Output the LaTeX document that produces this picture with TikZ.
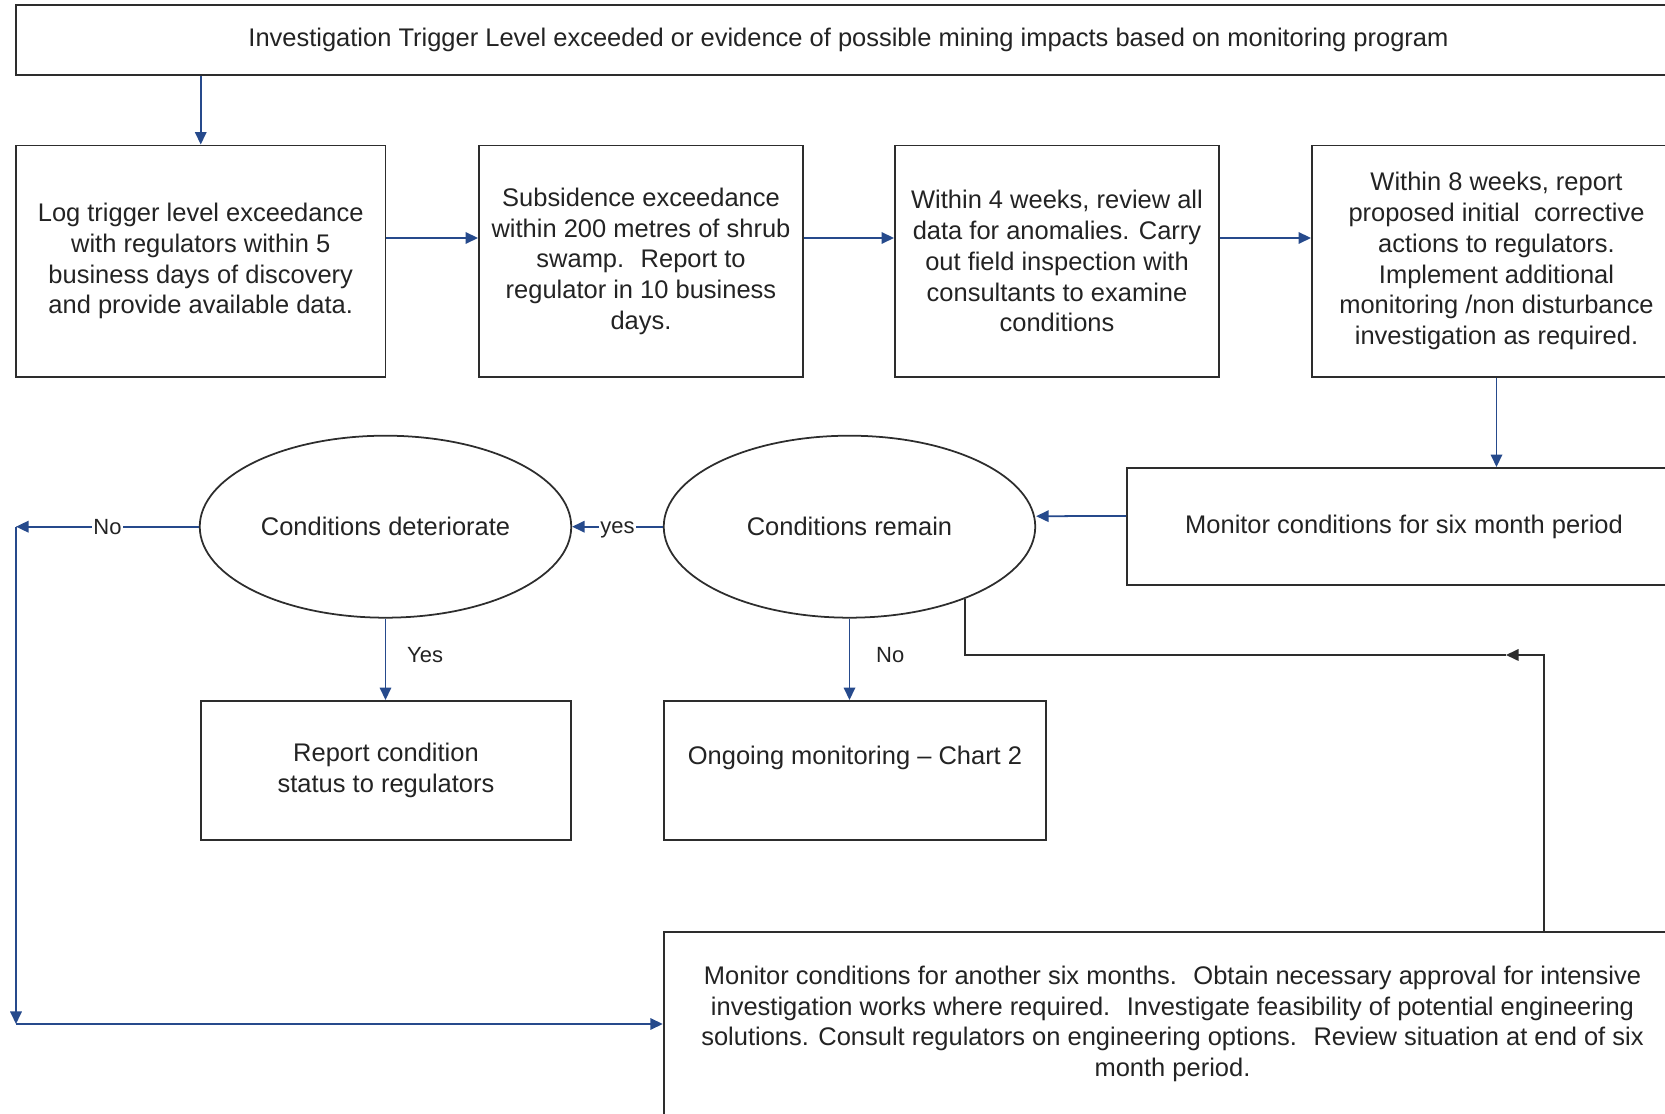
\documentclass[tikz,border=0pt]{standalone}
\usepackage{fontspec}
\setmainfont{Liberation Sans}
\usetikzlibrary{shapes.geometric,arrows.meta}

\begin{document}
\begin{tikzpicture}[
    mybox/.style={draw=myframe, line width=1.1pt, text=mytext, align=center, inner sep=2pt,
        font=\fontsize{14.5}{17.5}\selectfont},
    myellipse/.style={ellipse, draw=myframe, line width=1pt, text=mytext, inner sep=0pt,
        minimum width=7.43cm, minimum height=3.64cm, font=\fontsize{14.5}{17.5}\selectfont},
    myarrow/.style={draw=myblue, line width=1pt, -{Triangle[length=0.25cm,width=0.23cm]}},
    mylabel/.style={text=mytext, font=\fontsize{12.5}{15}\selectfont, inner sep=1pt}
]

\definecolor{myblue}{RGB}{38,74,140}
\definecolor{myframe}{RGB}{45,45,45}
\definecolor{mytext}{RGB}{35,35,35}

    %Rahmen
    \useasboundingbox (0,0) rectangle (33.3,22.28);

    %Kasten oben
    \node [mybox, minimum width=33.3cm, minimum height=1.4cm] (trigger) at (16.97,21.48)
        {Investigation Trigger Level exceeded or evidence of possible mining impacts based on monitoring program};

    %Erste Reihe
    \node [mybox, minimum width=7.39cm, minimum height=4.63cm] (log) at (4.015,17.055)
        {Log trigger level exceedance\\with regulators within 5\\business days of discovery\\and provide available data.};
    \node [mybox, minimum width=6.48cm, minimum height=4.63cm] (subsid) at (12.82,17.055)
        {Subsidence exceedance\\within 200 metres of shrub\\swamp.~ Report to\\regulator in 10 business\\days.};
    \node [mybox, minimum width=6.48cm, minimum height=4.63cm] (review) at (21.14,17.055)
        {Within 4 weeks, review all\\data for anomalies. Carry\\out field inspection with\\consultants to examine\\conditions};
    \node [mybox, minimum width=7.38cm, minimum height=4.63cm] (propose) at (29.93,17.055)
        {Within 8 weeks, report\\proposed initial~ corrective\\actions to regulators.\\Implement additional\\monitoring /non disturbance\\investigation as required.};

    %Zweite Reihe
    \node [mybox, minimum width=11.08cm, minimum height=2.34cm] (monitor) at (28.08,11.75)
        {Monitor conditions for six month period};
    \node [myellipse] (remain) at (16.99,11.746) {Conditions remain};
    \node [myellipse] (deter) at (7.71,11.746) {Conditions deteriorate};

    %Dritte Reihe
    \node [mybox, minimum width=7.41cm, minimum height=2.78cm] (status) at (7.72,6.87)
        {Report condition\\status to regulators};
    \node [mybox, minimum width=7.65cm, minimum height=2.78cm] (ongoing) at (17.10,6.87)
        {Ongoing monitoring -- Chart 2\\\mbox{}};

    %Kasten unten
    \node [mybox, minimum width=20.35cm, minimum height=3.68cm] (another) at (23.45,1.80)
        {Monitor conditions for another six months.~ Obtain necessary approval for intensive\\investigation works where required.~ Investigate feasibility of potential engineering\\solutions. Consult regulators on engineering options.~ Review situation at end of six\\month period.};

    %Hilfspunkte
    \coordinate (noend) at (0.32,11.746);
    \coordinate (corner) at (noend |- another.west);
    \coordinate (fbx) at (30.88,0);
    \coordinate (fbarrow) at (30.12,9.18);

    %Pfeile
    \draw [myarrow] (log.north |- trigger.south) -- (log.north);
    \draw [myarrow] ([yshift=0.465cm]log.east) -- ([yshift=0.465cm]subsid.west);
    \draw [myarrow] ([yshift=0.465cm]subsid.east) -- ([yshift=0.465cm]review.west);
    \draw [myarrow] ([yshift=0.465cm]review.east) -- ([yshift=0.465cm]propose.west);
    \draw [myarrow] (propose.south) -- (propose.south |- monitor.north);
    \draw [myarrow] ([yshift=0.21cm]monitor.west) -- ([yshift=0.21cm]remain.east);
    \draw [myarrow] (remain.west) -- node [mylabel, fill=white, yshift=-2pt] {yes} (deter.east);
    \draw [myarrow] (deter.west) -- node [mylabel, fill=white] {No} (noend);
    \draw [myarrow] (noend) -- (corner);
    \draw [myarrow] (corner) -- (another.west);
    \draw [myarrow] (deter.south) -- node [mylabel, pos=0.45, right=0.38cm] {Yes} (deter.south |- status.north);
    \draw [myarrow] (remain.south) -- node [mylabel, pos=0.45, right=0.48cm] {No} (remain.south |- ongoing.north);

    %Rueckfuehrung
    \draw [draw=myframe, line width=1pt, -{Triangle[length=0.25cm,width=0.23cm]}] (another.north -| fbx) |- (fbarrow);
    \draw [draw=myframe, line width=1pt] (fbarrow) -| (remain.-32);

\end{tikzpicture}
\end{document}
